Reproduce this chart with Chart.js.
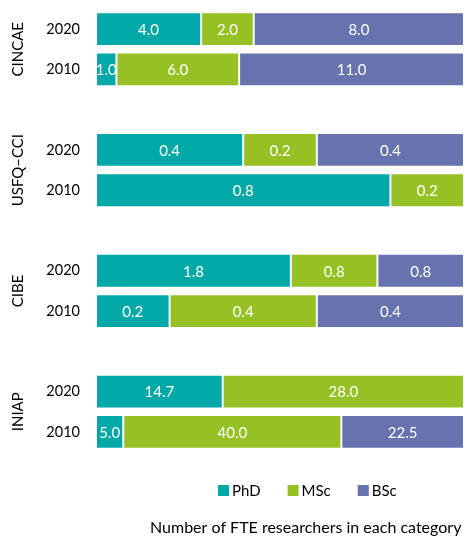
<!DOCTYPE html>
<html>
<head>
<meta charset="utf-8">
<script src="https://cdn.jsdelivr.net/npm/chart.js@4"></script>
<style>
  html, body { margin: 0; padding: 0; background: #fff; overflow: hidden; }
  #wrap { width: 464px; height: 536px; font-family: Lato; }
</style>
</head>
<body>
<div id="wrap"><canvas id="chart" width="464" height="536"></canvas></div>
<script>
// rows: 2020 / 2010 per institute, '' rows are spacers between groups
const groups = ['CINCAE', 'USFQ\u2013CCI', 'CIBE', 'INIAP'];
const rowLabels = ['2020', '2010', '', '2020', '2010', '', '2020', '2010', '', '2020', '2010'];
const seriesNames = ['PhD', 'MSc', 'BSc'];
const seriesColors = ['#00A8A8', '#97C024', '#6673AE'];

const phd = [4.0, 1.0, null, 0.4, 0.8, null, 1.8, 0.2, null, 14.7, 5.0];
const msc = [2.0, 6.0, null, 0.2, 0.2, null, 0.8, 0.4, null, 28.0, 40.0];
const bsc = [8.0, 11.0, null, 0.4, null, null, 0.8, 0.4, null, null, 22.5];

const FONT = 'Lato, "Open Sans", sans-serif';

const raw = [phd, msc, bsc];
const totals = rowLabels.map((_, i) => raw.reduce((s, arr) => s + (arr[i] || 0), 0));
const share = arr => arr.map((v, i) => v == null ? null : v / totals[i] * 100);

const datasets = seriesNames.map((name, k) => ({
    label: name,
    data: share(raw[k]),
    rawValues: raw[k],
    backgroundColor: seriesColors[k],
    borderColor: 'rgba(255,255,255,0.55)',
    borderWidth: 1,
    borderSkipped: false,
    barPercentage: 0.84,
    categoryPercentage: 1.0
}));

// values written inside each segment
const segmentLabels = {
    id: 'segmentLabels',
    afterDatasetsDraw(chart) {
        const ctx = chart.ctx;
        ctx.save();
        ctx.font = '15px ' + FONT;
        ctx.fillStyle = '#fff';
        ctx.textAlign = 'center';
        ctx.textBaseline = 'middle';
        chart.data.datasets.forEach((ds, di) => {
            chart.getDatasetMeta(di).data.forEach((el, i) => {
                const v = ds.rawValues[i];
                if (v == null) return;
                const p = el.getCenterPoint();
                ctx.fillText(v.toFixed(1), p.x, p.y + 1);
            });
        });
        ctx.restore();
    }
};

// rotated institute names, legend and axis title
const extras = {
    id: 'extras',
    afterDraw(chart) {
        const ctx = chart.ctx;
        const y = chart.scales.y;
        ctx.save();
        ctx.fillStyle = '#000';
        ctx.font = '15px ' + FONT;
        ctx.textAlign = 'center';
        ctx.textBaseline = 'middle';
        groups.forEach((g, gi) => {
            const yc = (y.getPixelForValue(gi * 3) + y.getPixelForValue(gi * 3 + 1)) / 2;
            ctx.save();
            ctx.translate(18, yc);
            ctx.rotate(-Math.PI / 2);
            ctx.fillText(g, 0, 0);
            ctx.restore();
        });

        // legend
        ctx.font = '15px ' + FONT;
        ctx.textAlign = 'left';
        let x = 218;
        const ly = 490;
        seriesNames.forEach((name, k) => {
            ctx.fillStyle = seriesColors[k];
            ctx.fillRect(x, ly - 5, 11, 11);
            ctx.fillStyle = '#000';
            ctx.fillText(name, x + 14, ly + 1);
            x += 14 + ctx.measureText(name).width + 27;
        });

        // axis title
        ctx.font = '16px ' + FONT;
        ctx.fillText('Number of FTE researchers in each category', 150, 528);
        ctx.restore();
    }
};

function draw() {
    new Chart(document.getElementById('chart'), {
        type: 'bar',
        data: { labels: rowLabels, datasets: datasets },
        options: {
            indexAxis: 'y',
            responsive: false,
            animation: false,
            layout: { padding: { left: 0, right: 0, top: 9, bottom: 84 } },
            scales: {
                x: { stacked: true, min: 0, max: 100, display: false },
                y: {
                    stacked: true,
                    grid: { display: false, drawTicks: false },
                    border: { display: false },
                    ticks: { color: '#000', font: { family: FONT, size: 14.5 }, padding: 16 },
                    afterFit(scale) {
                        scale.width = 96;
                        scale.paddingTop = 0;
                        scale.paddingBottom = 0;
                    }
                }
            },
            plugins: {
                legend: { display: false },
                tooltip: { enabled: false }
            }
        },
        plugins: [segmentLabels, extras]
    });
}

Promise.all([document.fonts.load('15px Lato'), document.fonts.load('16px Lato')])
    .then(draw, draw);
</script>
</body>
</html>
